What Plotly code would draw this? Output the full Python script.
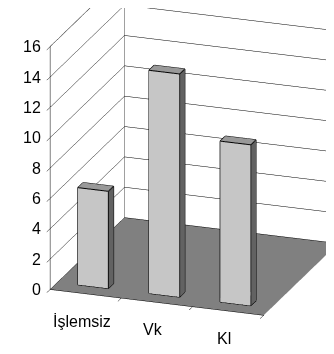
import math
import plotly.graph_objects as go

categories = ["İşlemsiz", "Vk", "Kl"]
values = [6.4, 14.7, 10.6]
y_ticks = [0, 2, 4, 6, 8, 10, 12, 14, 16]

BAR_W = 0.43
D0, D1 = 0.10, 0.17
ZMAX = 16
XL, XR = -0.5, 2.5

FRONT = "#c6c6c6"
SIDE = "#626262"
TOP = "#999999"

fig = go.Figure()

for i, v in enumerate(values):
    x0, x1 = i - BAR_W / 2, i + BAR_W / 2
    xs = [x0, x1, x1, x0, x0, x1, x1, x0]
    ys = [D0, D0, D1, D1, D0, D0, D1, D1]
    zs = [0, 0, 0, 0, v, v, v, v]
    tri = [
        (0, 1, 5), (0, 5, 4),
        (1, 2, 6), (1, 6, 5),
        (4, 5, 6), (4, 6, 7),
        (3, 2, 6), (3, 6, 7),
        (0, 3, 7), (0, 7, 4),
        (0, 1, 2), (0, 2, 3),
    ]
    colors = [FRONT, FRONT, SIDE, SIDE, TOP, TOP, SIDE, SIDE, SIDE, SIDE, SIDE, SIDE]
    fig.add_trace(go.Mesh3d(
        x=xs, y=ys, z=zs,
        i=[t[0] for t in tri], j=[t[1] for t in tri], k=[t[2] for t in tri],
        facecolor=colors, flatshading=True,
        lighting=dict(ambient=1, diffuse=0, specular=0, roughness=1, fresnel=0),
        hoverinfo="skip", showscale=False,
    ))
    ex, ey, ez = [], [], []
    for a, b in [(0, 1), (1, 5), (5, 4), (4, 0), (5, 6), (6, 7), (7, 4), (1, 2), (2, 6)]:
        ex.extend([xs[a], xs[b], None]); ey.extend([ys[a], ys[b], None]); ez.extend([zs[a], zs[b], None])
    fig.add_trace(go.Scatter3d(x=ex, y=ey, z=ez, mode="lines",
                               line=dict(color="black", width=2),
                               hoverinfo="skip", showlegend=False))

wx = [XL, XL, None, XL, XR, None, XL, XL, None, XR, XR, None]
wy = [0, 1, None, 1, 1, None, 1, 1, None, 1, 1, None]
wz = [ZMAX, ZMAX, None, ZMAX, ZMAX, None, 0, ZMAX, None, 0, ZMAX, None]
fig.add_trace(go.Scatter3d(x=wx, y=wy, z=wz, mode="lines",
                           line=dict(color="#808080", width=1.5),
                           hoverinfo="skip", showlegend=False))

font = dict(family="Liberation Sans, Arial, sans-serif", size=16, color="black")

th = math.radians(19.5)
ph = math.radians(20.0)
d = (math.sin(th) * math.cos(ph), -math.cos(th) * math.cos(ph), math.sin(ph))
L = 2.2
c = (-0.0738, -0.1147, -0.2098)

annotations = [
    dict(x=i, y=0, z=0, text=cat, showarrow=False, font=font,
         xshift=-4, yshift=-27)
    for i, cat in enumerate(categories)
] + [
    dict(x=XL, y=0, z=t, text=str(t), showarrow=False, font=font,
         xanchor="right", yanchor="middle", xshift=-7, yshift=0)
    for t in y_ticks
]

fig.update_layout(
    width=334, height=354,
    margin=dict(l=0, r=0, t=0, b=0),
    paper_bgcolor="white",
    showlegend=False,
    scene=dict(
        domain=dict(x=[0, 1], y=[0, 1]),
        aspectmode="manual",
        aspectratio=dict(x=1.28, y=1.26, z=1.46),
        xaxis=dict(range=[XL, XR], tickvals=[0.5, 1.5, 2.5], ticktext=["", "", ""],
                   showgrid=False, showbackground=True, backgroundcolor="white",
                   showline=True, linecolor="black", zeroline=False, title="",
                   tickfont=font, showspikes=False, ticks="outside", ticklen=5,
                   tickcolor="black", tickangle=0),
        yaxis=dict(range=[0, 1], showgrid=False, showticklabels=False,
                   showbackground=True, backgroundcolor="white",
                   showline=False, zeroline=False, title="", showspikes=False, ticks=""),
        zaxis=dict(range=[0, ZMAX], tickvals=y_ticks, showgrid=True, gridcolor="black",
                   gridwidth=1, showbackground=True, backgroundcolor="#808080",
                   showline=True, linecolor="black", zeroline=False, title="",
                   showticklabels=False, showspikes=False, ticks="outside", ticklen=5,
                   tickcolor="black"),
        camera=dict(eye=dict(x=c[0] + L * d[0], y=c[1] + L * d[1], z=c[2] + L * d[2]),
                    center=dict(x=c[0], y=c[1], z=c[2]),
                    up=dict(x=0, y=0, z=1),
                    projection=dict(type="orthographic")),
        annotations=annotations,
    ),
)

fig.write_html("out.html")
